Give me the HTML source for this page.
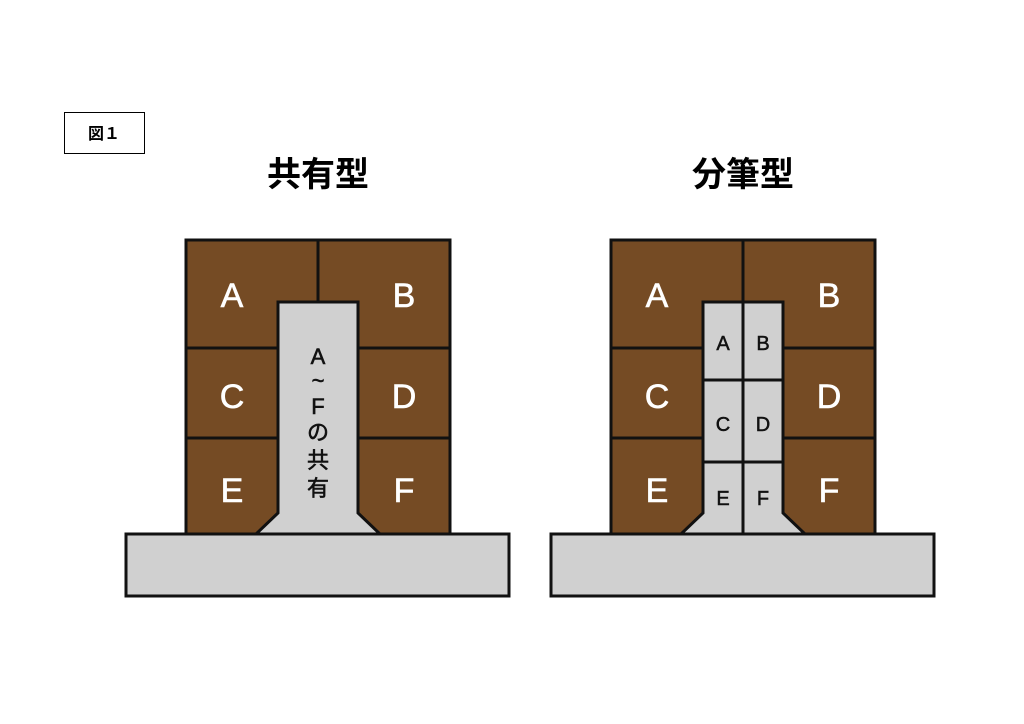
<!DOCTYPE html>
<html><head><meta charset="utf-8"><style>
html,body{margin:0;padding:0;background:#fff;width:1024px;height:724px;overflow:hidden}
</style></head><body>
<svg width="1024" height="724" xmlns="http://www.w3.org/2000/svg" style="font-family:'Liberation Sans','Noto Sans CJK JP',sans-serif">
<rect x="64.5" y="112.5" width="80" height="41" fill="#fff" stroke="#000" stroke-width="1"/>
<text x="104" y="139" font-size="16" font-weight="bold" text-anchor="middle">図１</text>
<text x="318" y="186" font-size="34" font-weight="bold" text-anchor="middle">共有型</text>
<text x="743" y="186" font-size="34" font-weight="bold" text-anchor="middle">分筆型</text>

<g stroke="#111" stroke-width="3">
<rect x="186" y="240" width="264" height="294" fill="#754b24"/>
<line x1="318" y1="240" x2="318" y2="302"/>
<line x1="186" y1="348" x2="450" y2="348"/>
<line x1="186" y1="438" x2="450" y2="438"/>
<polygon points="278,302 358,302 358,513 380,534 256,534 278,513" fill="#d0d0d0"/>
<rect x="126" y="534" width="383" height="62" fill="#d0d0d0"/>
<rect x="611" y="240" width="264" height="294" fill="#754b24"/>
<line x1="743" y1="240" x2="743" y2="302"/>
<line x1="611" y1="348" x2="875" y2="348"/>
<line x1="611" y1="438" x2="875" y2="438"/>
<polygon points="703,302 783,302 783,513 805,534 681,534 703,513" fill="#d0d0d0"/>
<line x1="743" y1="302" x2="743" y2="534"/>
<line x1="703" y1="380" x2="783" y2="380"/>
<line x1="703" y1="462" x2="783" y2="462"/>
<rect x="551" y="534" width="383" height="62" fill="#d0d0d0"/>
</g>

<g fill="#fff" font-size="34" text-anchor="middle" stroke="#fff" stroke-width="0.6">
<text x="232" y="307">A</text><text x="404" y="307">B</text>
<text x="232" y="408">C</text><text x="404" y="408">D</text>
<text x="232" y="502">E</text><text x="404" y="502">F</text>
<text x="657" y="307">A</text><text x="829" y="307">B</text>
<text x="657" y="408">C</text><text x="829" y="408">D</text>
<text x="657" y="502">E</text><text x="829" y="502">F</text>
</g>
<g fill="#111" font-size="22" text-anchor="middle" stroke="#111" stroke-width="0.6">
<text x="318" y="364">A</text>
<text x="318" y="388">~</text>
<text x="318" y="414">F</text>
<text x="318" y="440">の</text>
<text x="318" y="468">共</text>
<text x="318" y="496">有</text>
</g>
<g fill="#111" font-size="20" text-anchor="middle" stroke="#111" stroke-width="0.5">
<text x="723" y="350">A</text><text x="763" y="350">B</text>
<text x="723" y="431">C</text><text x="763" y="431">D</text>
<text x="723" y="505">E</text><text x="763" y="505">F</text>
</g>
</svg>
</body></html>
